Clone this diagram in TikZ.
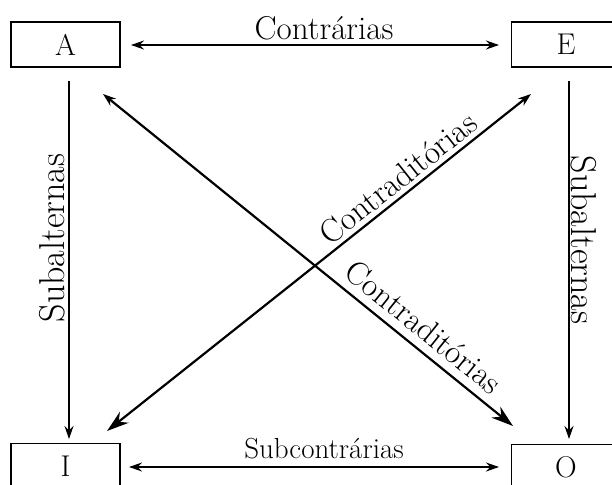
\documentclass[tikz,border=0pt]{standalone}
\usetikzlibrary{arrows.meta}
\begin{document}
\begin{tikzpicture}[x=1pt,y=-1pt,
  box/.style={draw,line width=1.8pt,minimum width=109pt,minimum height=45pt,inner sep=0pt,font=\fontsize{30}{34}\selectfont},
  lab/.style={inner sep=0pt},
  arr/.style={line width=1.3pt,{Stealth[length=13pt,width=9pt]}-{Stealth[length=13pt,width=9pt]}},
  down/.style={line width=1.3pt,-{Stealth[length=13pt,width=9pt]}},
  diag/.style={line width=2.2pt},
  ]
\useasboundingbox (0,0) rectangle (612,484);
\begin{scope}
\clip (0,0) rectangle (612,484);
\node[box] (A) at (65.5,44.5) {A};
\node[box] (E) at (566,44.5) {E};
\node[box] (I) at (65.5,466) {I};
\node[box] (O) at (566,467) {O};
\end{scope}
\coordinate (t1) at (131,45); \coordinate (t2) at (499,45);
\coordinate (b1) at (129,467); \coordinate (b2) at (499,467);
\coordinate (l1) at (69,81); \coordinate (l2) at (69,439);
\coordinate (r1) at (569,81); \coordinate (r2) at (569,439);
\coordinate (ao1) at (103,94); \coordinate (ao2) at (513,426);
\coordinate (ie1) at (107,431); \coordinate (ie2) at (531,94);
\draw[arr] (t1) -- (t2);
\draw[arr] (b1) -- (b2);
\draw[down] (l1) -- (l2);
\draw[down] (r1) -- (r2);
\draw[diag,{Stealth[length=13pt,width=9pt]}-{Stealth[length=22pt,width=14pt]}] (ao1) -- (ao2);
\draw[diag,{Stealth[length=22pt,width=14pt]}-{Stealth[length=13pt,width=9pt]}] (ie1) -- (ie2);
\node[lab,anchor=base,font=\fontsize{33}{38}\selectfont] (lc) at (324,40) {Contrárias};
\node[lab,anchor=base,font=\fontsize{29}{34}\selectfont] (ls) at (324,458) {Subcontrárias};
\node[lab,rotate=90,font=\fontsize{36}{40}\selectfont] (ll) at (52,238) {Subalternas};
\node[lab,rotate=-90,font=\fontsize{36}{40}\selectfont] (lr) at (584,240) {Subalternas};
\node[lab,rotate=38.5,font=\fontsize{33}{38}\selectfont] (lie) at (398,178) {Contraditórias};
\node[lab,rotate=-38.9,font=\fontsize{33}{38}\selectfont] (lao) at (424,327) {Contraditórias};
\end{tikzpicture}
\end{document}
